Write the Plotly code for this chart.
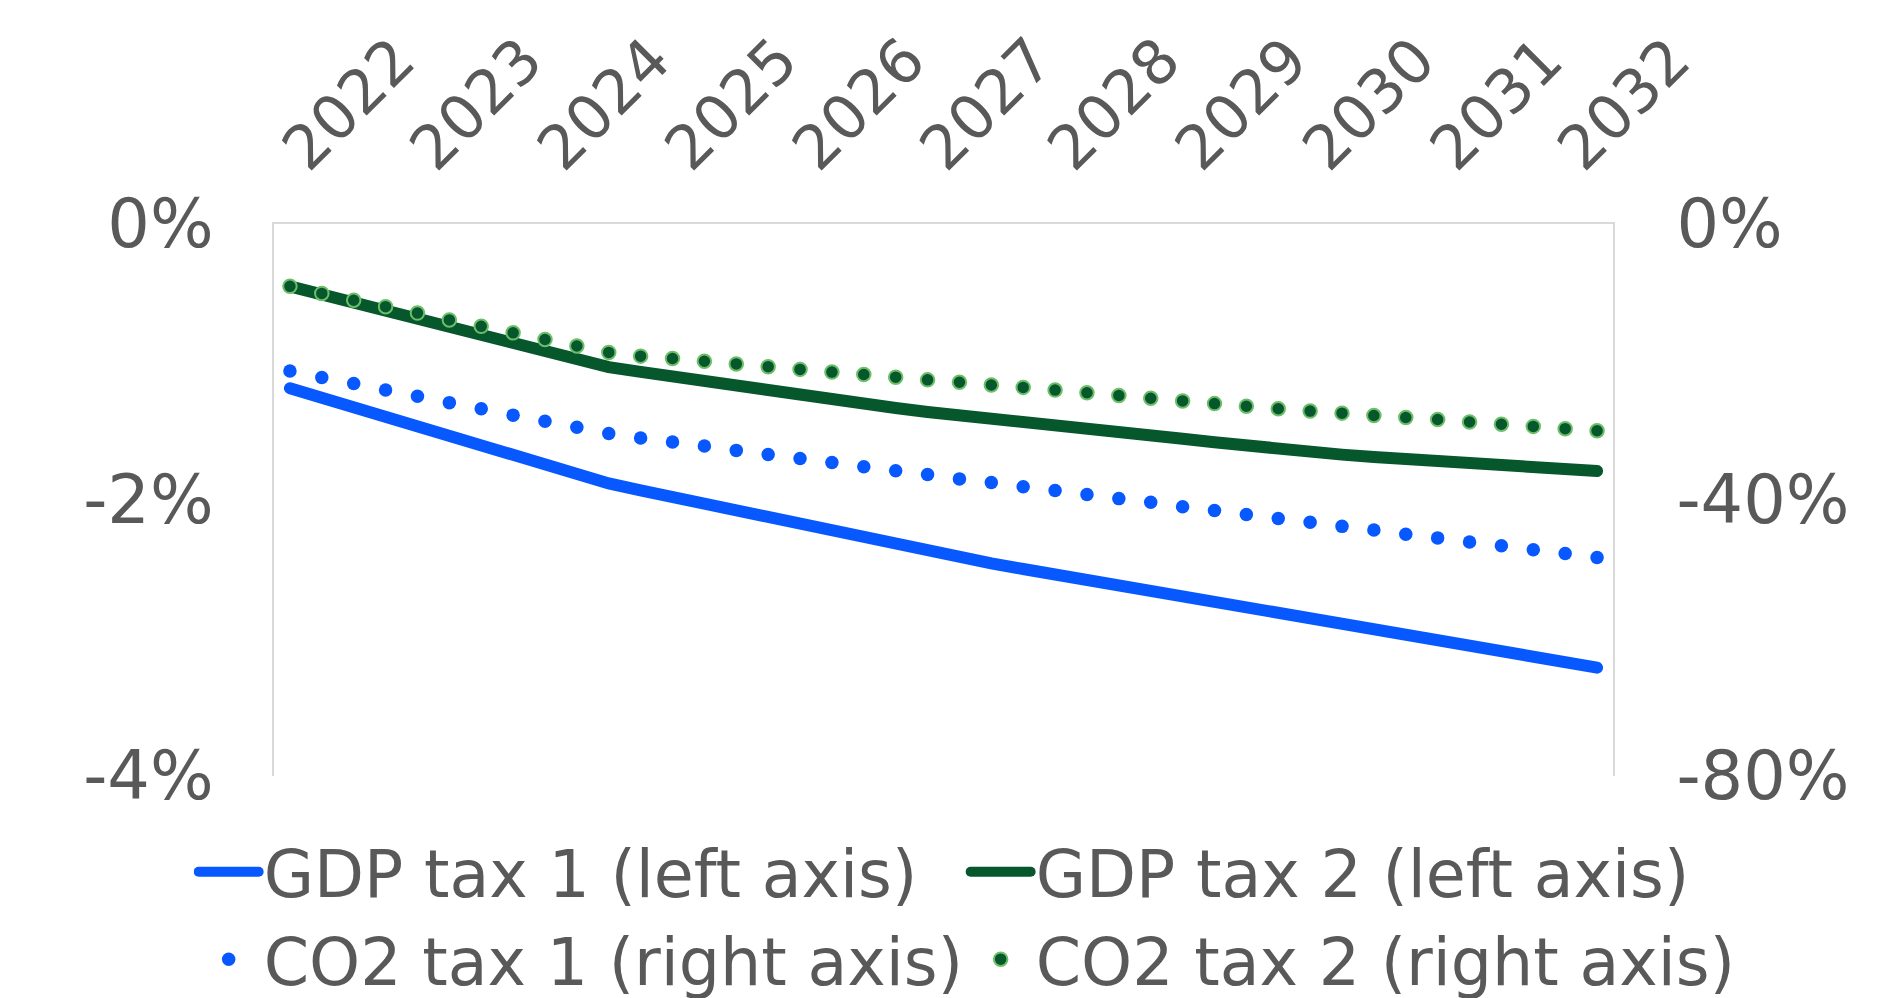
import plotly.graph_objects as go

# Quarterly periods 2022Q1 .. 2032Q2
quarters = [f"{y}Q{q}" for y in range(2022, 2033) for q in range(1, 5)][:42]

# Year labels shown on the top axis, one per first quarter
year_ticks = [f"{y}Q1" for y in range(2022, 2033)]
year_labels = [str(y) for y in range(2022, 2033)]

# GDP effect, % (left axis)
gdp_tax_1 = [-1.19, -1.26, -1.33, -1.40, -1.47, -1.54, -1.61, -1.68, -1.75, -1.82,
             -1.88, -1.93, -1.98, -2.03, -2.08, -2.13, -2.18, -2.23, -2.28, -2.33,
             -2.38, -2.42, -2.46, -2.50, -2.54, -2.58, -2.62, -2.66, -2.70, -2.74,
             -2.78, -2.82, -2.86, -2.90, -2.94, -2.98, -3.02, -3.06, -3.10, -3.14,
             -3.18, -3.215]
gdp_tax_2 = [-0.452, -0.510, -0.569, -0.627, -0.686, -0.744, -0.803, -0.861, -0.920, -0.978,
             -1.037, -1.072, -1.107, -1.141, -1.175, -1.209, -1.243, -1.273, -1.303, -1.333,
             -1.362, -1.389, -1.411, -1.434, -1.456, -1.481, -1.506, -1.530, -1.556, -1.582,
             -1.609, -1.630, -1.651, -1.671, -1.689, -1.706, -1.722, -1.738, -1.754, -1.766,
             -1.778, -1.790]

# CO2 effect, % (right axis)
co2_tax_1 = [-21.31, -22.25, -23.13, -24.07, -24.96, -25.89, -26.77, -27.70, -28.59, -29.47,
             -30.36, -31.00, -31.58, -32.17, -32.81, -33.41, -33.99, -34.58, -35.17, -35.76,
             -36.30, -36.94, -37.47, -38.07, -38.61, -39.20, -39.80, -40.33, -40.97, -41.51,
             -42.11, -42.69, -43.22, -43.82, -44.36, -44.95, -45.49, -46.08, -46.62, -47.22,
             -47.75, -48.33]
co2_tax_2 = [-9.03, -10.06, -11.05, -11.98, -12.91, -13.90, -14.83, -15.77, -16.74, -17.68,
             -18.61, -19.15, -19.50, -19.89, -20.28, -20.68, -21.07, -21.46, -21.81, -22.20,
             -22.59, -22.94, -23.33, -23.68, -24.07, -24.46, -24.86, -25.25, -25.64, -26.03,
             -26.42, -26.77, -27.11, -27.41, -27.75, -28.05, -28.34, -28.69, -29.02, -29.33,
             -29.66, -29.97]

left_ticks = [-4, -2, 0]
left_labels = ["-4%", "-2%", "0%"]
right_ticks = [-80, -40, 0]
right_labels = ["-80%", "-40%", "0%"]

BLUE = "#0758FF"
GREEN = "#07572D"
GREEN_EDGE = "#6CBF68"
TEXT = "#595959"
AXIS = "#D9D9D9"
FONT = "DejaVu Sans"

fig = go.Figure()
fig.add_trace(go.Scatter(x=quarters, y=gdp_tax_1, name="GDP tax 1 (left axis)",
                         mode="lines", line=dict(color=BLUE, width=12)))
fig.add_trace(go.Scatter(x=quarters, y=gdp_tax_2, name="GDP tax 2 (left axis)",
                         mode="lines", line=dict(color=GREEN, width=12)))
fig.add_trace(go.Scatter(x=quarters, y=co2_tax_1, name="CO2 tax 1 (right axis)",
                         mode="markers", yaxis="y2",
                         marker=dict(color=BLUE, size=13.5, line=dict(width=0))))
fig.add_trace(go.Scatter(x=quarters, y=co2_tax_2, name="CO2 tax 2 (right axis)",
                         mode="markers", yaxis="y2",
                         marker=dict(color=GREEN, size=13.5, line=dict(color=GREEN_EDGE, width=2))))

fig.update_layout(
    template="none",
    width=1902, height=998,
    margin=dict(l=274, r=289, t=224, b=222, autoexpand=False),
    paper_bgcolor="white", plot_bgcolor="white",
    font=dict(family=FONT, color=TEXT, size=66),
    showlegend=True,
    legend=dict(orientation="h", x=-0.06, xanchor="left", y=-0.085, yanchor="top",
                font=dict(family=FONT, size=65, color=TEXT),
                itemwidth=60, entrywidth=697, entrywidthmode="pixels",
                bgcolor="rgba(0,0,0,0)", tracegroupgap=0),
    xaxis=dict(type="category", categoryorder="array", categoryarray=quarters,
               range=[-0.5, 41.5], side="top",
               showline=True, linecolor=AXIS, linewidth=2, mirror=False,
               showgrid=False, zeroline=False, ticks="",
               tickmode="array", tickvals=year_ticks, ticktext=year_labels,
               tickangle=-45, tickfont=dict(family=FONT, size=61, color=TEXT),
               ticklabelstandoff=15, ticklabelshift=-3, automargin=False),
    yaxis=dict(range=[-4, 0], showline=True, linecolor=AXIS, linewidth=2,
               showgrid=False, zeroline=False, ticks="",
               tickmode="array", tickvals=left_ticks, ticktext=left_labels,
               tickfont=dict(family=FONT, size=67, color=TEXT),
               ticklabelstandoff=45, automargin=False),
    yaxis2=dict(range=[-80, 0], overlaying="y", side="right",
                showline=True, linecolor=AXIS, linewidth=2,
                showgrid=False, zeroline=False, ticks="",
                tickmode="array", tickvals=right_ticks, ticktext=right_labels,
                tickfont=dict(family=FONT, size=67, color=TEXT),
                ticklabelstandoff=48, automargin=False),
)

# Rounded ends on the plotted lines and their legend swatches
post = """
var gd = document.getElementById('{plot_id}');
function roundCaps() {
  gd.querySelectorAll('.scatterlayer path.js-line, .legend path.js-line').forEach(function (p) {
    p.style.strokeLinecap = 'round';
  });
}
roundCaps();
gd.on('plotly_afterplot', roundCaps);
"""

fig.write_html("out.html", post_script=post)
